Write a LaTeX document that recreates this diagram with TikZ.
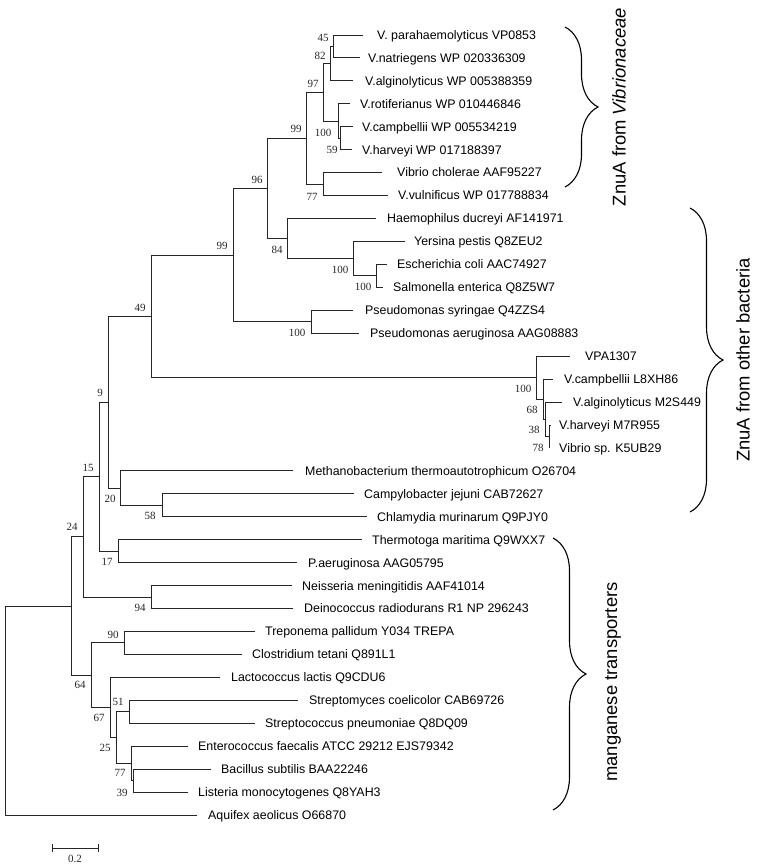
\documentclass[tikz,border=0pt]{standalone}
\usepackage{fontspec}
\setmainfont{Liberation Serif}
\newfontfamily\labfont{Liberation Sans}
\usetikzlibrary{decorations.pathreplacing}
\begin{document}
\begin{tikzpicture}[x=1pt,y=-1pt,
  branch/.style={draw=black!85, line width=0.9pt},
  leaf/.style={font=\labfont\fontsize{12.4}{14}\selectfont, anchor=base west, inner sep=0pt},
  bs/.style={font=\fontsize{11}{12}\selectfont, inner sep=0pt, text=black!85},
  grp/.style={font=\labfont\fontsize{18.4}{20}\selectfont, rotate=90, inner sep=0pt},
  brc/.style={draw=black, decorate, decoration={brace, amplitude=33pt}, line width=1.1pt}]
\useasboundingbox (0,0) rectangle (756,866);
% ---------- leaf ends ----------
\coordinate (e1) at (363,35);    \coordinate (e2) at (360,57.9);
\coordinate (e3) at (353,80.9);  \coordinate (e4) at (350,103.8);
\coordinate (e5) at (353,126.8); \coordinate (e6) at (352,149.7);
\coordinate (e7) at (382,172.6); \coordinate (e8) at (388,195.6);
\coordinate (e9) at (376,218.5); \coordinate (e10) at (405,241.5);
\coordinate (e11) at (387,264.4);\coordinate (e12) at (383,287.3);
\coordinate (e13) at (353,310.3);\coordinate (e14) at (359,333.2);
\coordinate (e15) at (570,356.2);\coordinate (e16) at (553,379.1);
\coordinate (e17) at (562,402.0);\coordinate (e18) at (551,425.0);
\coordinate (e19) at (550,447.9);\coordinate (e20) at (293,470.9);
\coordinate (e21) at (354,493.8);\coordinate (e22) at (367,516.7);
\coordinate (e23) at (362,539.7);\coordinate (e24) at (297,562.6);
\coordinate (e25) at (292,585.6);\coordinate (e26) at (293,608.5);
\coordinate (e27) at (255,631.4);\coordinate (e28) at (242,654.4);
\coordinate (e29) at (220,677.3);\coordinate (e30) at (298,700.3);
\coordinate (e31) at (255,723.2);\coordinate (e32) at (188,746.1);
\coordinate (e33) at (211,769.1);\coordinate (e34) at (188,792.0);
\coordinate (e35) at (197,815.0);
% ---------- internal nodes ----------
\coordinate (n45) at (333,46.45);
\coordinate (n82) at (330,63.7);
\coordinate (n59) at (340,138.25);
\coordinate (n100a) at (338,121.0);
\coordinate (n97) at (323,92.35);
\coordinate (n77a) at (323,184.1);
\coordinate (n99a) at (306,138.2);
\coordinate (n100c) at (376,275.85);
\coordinate (n100b) at (353,258.7);
\coordinate (n84) at (287,238.6);
\coordinate (n96) at (267,188.4);
\coordinate (n100d) at (311,321.75);
\coordinate (n99b) at (233,255.1);
\coordinate (n78) at (549,436.45);
\coordinate (n38) at (545,419.2);
\coordinate (n68) at (543,399.15);
\coordinate (n100e) at (536,377.7);
\coordinate (n49) at (151,316.4);
\coordinate (n58) at (162,505.25);
\coordinate (n20) at (120,488.1);
\coordinate (n9) at (108,402.25);
\coordinate (n17) at (118,551.15);
\coordinate (n15) at (99,476.7);
\coordinate (n94) at (151,597.05);
\coordinate (n24) at (83,536.9);
\coordinate (n90) at (124,642.9);
\coordinate (n51) at (129,711.75);
\coordinate (n39) at (133,780.55);
\coordinate (n77b) at (131,763.3);
\coordinate (n25) at (116,737.5);
\coordinate (n67) at (110,707.4);
\coordinate (n64) at (91,675.15);
\coordinate (n71) at (71,606.0);
\coordinate (root) at (5,710.5);
% ---------- branches ----------
\draw[branch] (n45) |- (e1);  \draw[branch] (n45) |- (e2);
\draw[branch] (n82) |- (n45); \draw[branch] (n82) |- (e3);
\draw[branch] (n59) |- (e5);  \draw[branch] (n59) |- (e6);
\draw[branch] (n100a) |- (e4); \draw[branch] (n100a) |- (n59);
\draw[branch] (n97) |- (n82); \draw[branch] (n97) |- (n100a);
\draw[branch] (n77a) |- (e7); \draw[branch] (n77a) |- (e8);
\draw[branch] (n99a) |- (n97); \draw[branch] (n99a) |- (n77a);
\draw[branch] (n100c) |- (e11); \draw[branch] (n100c) |- (e12);
\draw[branch] (n100b) |- (e10); \draw[branch] (n100b) |- (n100c);
\draw[branch] (n84) |- (e9); \draw[branch] (n84) |- (n100b);
\draw[branch] (n96) |- (n99a); \draw[branch] (n96) |- (n84);
\draw[branch] (n100d) |- (e13); \draw[branch] (n100d) |- (e14);
\draw[branch] (n99b) |- (n96); \draw[branch] (n99b) |- (n100d);
\draw[branch] (n78) |- (e18); \draw[branch] (n78) |- (e19);
\draw[branch] (n38) |- (e17); \draw[branch] (n38) |- (n78);
\draw[branch] (n68) |- (e16); \draw[branch] (n68) |- (n38);
\draw[branch] (n100e) |- (e15); \draw[branch] (n100e) |- (n68);
\draw[branch] (n49) |- (n99b); \draw[branch] (n49) |- (n100e);
\draw[branch] (n58) |- (e21); \draw[branch] (n58) |- (e22);
\draw[branch] (n20) |- (e20); \draw[branch] (n20) |- (n58);
\draw[branch] (n9) |- (n49); \draw[branch] (n9) |- (n20);
\draw[branch] (n17) |- (e23); \draw[branch] (n17) |- (e24);
\draw[branch] (n15) |- (n9); \draw[branch] (n15) |- (n17);
\draw[branch] (n94) |- (e25); \draw[branch] (n94) |- (e26);
\draw[branch] (n24) |- (n15); \draw[branch] (n24) |- (n94);
\draw[branch] (n90) |- (e27); \draw[branch] (n90) |- (e28);
\draw[branch] (n51) |- (e30); \draw[branch] (n51) |- (e31);
\draw[branch] (n39) |- (e33); \draw[branch] (n39) |- (e34);
\draw[branch] (n77b) |- (e32); \draw[branch] (n77b) |- (n39);
\draw[branch] (n25) |- (n51); \draw[branch] (n25) |- (n77b);
\draw[branch] (n67) |- (e29); \draw[branch] (n67) |- (n25);
\draw[branch] (n64) |- (n90); \draw[branch] (n64) |- (n67);
\draw[branch] (n71) |- (n24); \draw[branch] (n71) |- (n64);
\draw[branch] (root) |- (n71); \draw[branch] (root) |- (e35);
% ---------- leaf labels ----------
\node[leaf] (t1) at (377,39.4) {V. parahaemolyticus VP0853};
\node[leaf] (t2) at (368,62.3) {V.natriegens WP 020336309};
\node[leaf] (t3) at (365,85.3) {V.alginolyticus WP 005388359};
\node[leaf] (t4) at (360,108.2) {V.rotiferianus WP 010446846};
\node[leaf] (t5) at (362,131.2) {V.campbellii WP 005534219};
\node[leaf] (t6) at (362,154.1) {V.harveyi WP 017188397};
\node[leaf] (t7) at (397,177.0) {Vibrio cholerae AAF95227};
\node[leaf] (t8) at (398,200.0) {V.vulnificus WP 017788834};
\node[leaf] (t9) at (387,222.9) {Haemophilus ducreyi AF141971};
\node[leaf] (t10) at (414,245.9) {Yersina pestis Q8ZEU2};
\node[leaf] (t11) at (397,268.8) {Escherichia coli AAC74927};
\node[leaf] (t12) at (393,291.7) {Salmonella enterica Q8Z5W7};
\node[leaf] (t13) at (365,314.7) {Pseudomonas syringae Q4ZZS4};
\node[leaf] (t14) at (370,337.6) {Pseudomonas aeruginosa AAG08883};
\node[leaf] (t15) at (585,360.6) {VPA1307};
\node[leaf] (t16) at (564,383.5) {V.campbellii L8XH86};
\node[leaf] (t17) at (573,406.4) {V.alginolyticus M2S449};
\node[leaf] (t18) at (559,429.4) {V.harveyi M7R955};
\node[leaf] (t19) at (559,452.3) {Vibrio sp. K5UB29};
\node[leaf] (t20) at (305,475.3) {Methanobacterium thermoautotrophicum O26704};
\node[leaf] (t21) at (364,498.2) {Campylobacter jejuni CAB72627};
\node[leaf] (t22) at (377,521.1) {Chlamydia murinarum Q9PJY0};
\node[leaf] (t23) at (372,544.1) {Thermotoga maritima Q9WXX7};
\node[leaf] (t24) at (308,567.0) {P.aeruginosa AAG05795};
\node[leaf] (t25) at (302,590.0) {Neisseria meningitidis AAF41014};
\node[leaf] (t26) at (304,612.9) {Deinococcus radiodurans R1 NP 296243};
\node[leaf] (t27) at (265,635.8) {Treponema pallidum Y034 TREPA};
\node[leaf] (t28) at (252,658.8) {Clostridium tetani Q891L1};
\node[leaf] (t29) at (231,681.7) {Lactococcus lactis Q9CDU6};
\node[leaf] (t30) at (309,704.7) {Streptomyces coelicolor CAB69726};
\node[leaf] (t31) at (265,727.6) {Streptococcus pneumoniae Q8DQ09};
\node[leaf] (t32) at (198,750.5) {Enterococcus faecalis ATCC 29212 EJS79342};
\node[leaf] (t33) at (221,773.5) {Bacillus subtilis BAA22246};
\node[leaf] (t34) at (198,796.4) {Listeria monocytogenes Q8YAH3};
\node[leaf] (t35) at (208,819.4) {Aquifex aeolicus O66870};
% ---------- bootstrap values ----------
\node[bs] (b45) at (323,38) {45};
\node[bs] (b82) at (320,56) {82};
\node[bs] (b97) at (313,84) {97};
\node[bs] (b99a) at (296,129) {99};
\node[bs] (b100a) at (323,133) {100};
\node[bs] (b59) at (332,150) {59};
\node[bs] (b77a) at (312,197) {77};
\node[bs] (b96) at (257,180) {96};
\node[bs] (b84) at (277,250) {84};
\node[bs] (b99b) at (222,246) {99};
\node[bs] (b100b) at (340,270) {100};
\node[bs] (b100c) at (363,287) {100};
\node[bs] (b100d) at (297,333) {100};
\node[bs] (b49) at (140,308) {49};
\node[bs] (b100e) at (523,389) {100};
\node[bs] (b68) at (532,410) {68};
\node[bs] (b38) at (534,430) {38};
\node[bs] (b78) at (538,448) {78};
\node[bs] (b9) at (100,393) {9};
\node[bs] (b15) at (88,468) {15};
\node[bs] (b20) at (110,499) {20};
\node[bs] (b58) at (150,516) {58};
\node[bs] (b17) at (107,562) {17};
\node[bs] (b24) at (72,527) {24};
\node[bs] (b94) at (140,608) {94};
\node[bs] (b90) at (113,635) {90};
\node[bs] (b64) at (80,685) {64};
\node[bs] (b67) at (99,718) {67};
\node[bs] (b51) at (118,702) {51};
\node[bs] (b25) at (105,748) {25};
\node[bs] (b77b) at (120,773) {77};
\node[bs] (b39) at (122,793) {39};
% ---------- braces and group labels ----------
\coordinate (vt) at (565,27);  \coordinate (vb) at (565,187);
\coordinate (ot) at (690,208); \coordinate (ob) at (690,512);
\coordinate (mt) at (553,538); \coordinate (mb) at (553,810);
\draw[brc] (vt) -- (vb);
\draw[brc] (ot) -- (ob);
\draw[brc] (mt) -- (mb);
\node[grp] (gv) at (619,107) {ZnuA from \textit{Vibrionaceae}};
\node[grp] (go) at (743,360) {ZnuA from other bacteria};
\node[grp] (gm) at (613,682) {manganese transporters};
% ---------- scale bar ----------
\coordinate (s1) at (52,848); \coordinate (s2) at (98,848);
\draw[branch] (s1) -- (s2);
\draw[branch] ([yshift=4pt]s1) -- ([yshift=-4pt]s1);
\draw[branch] ([yshift=4pt]s2) -- ([yshift=-4pt]s2);
\node[bs] (sl) at (75,859) {0.2};
\end{tikzpicture}
\end{document}
